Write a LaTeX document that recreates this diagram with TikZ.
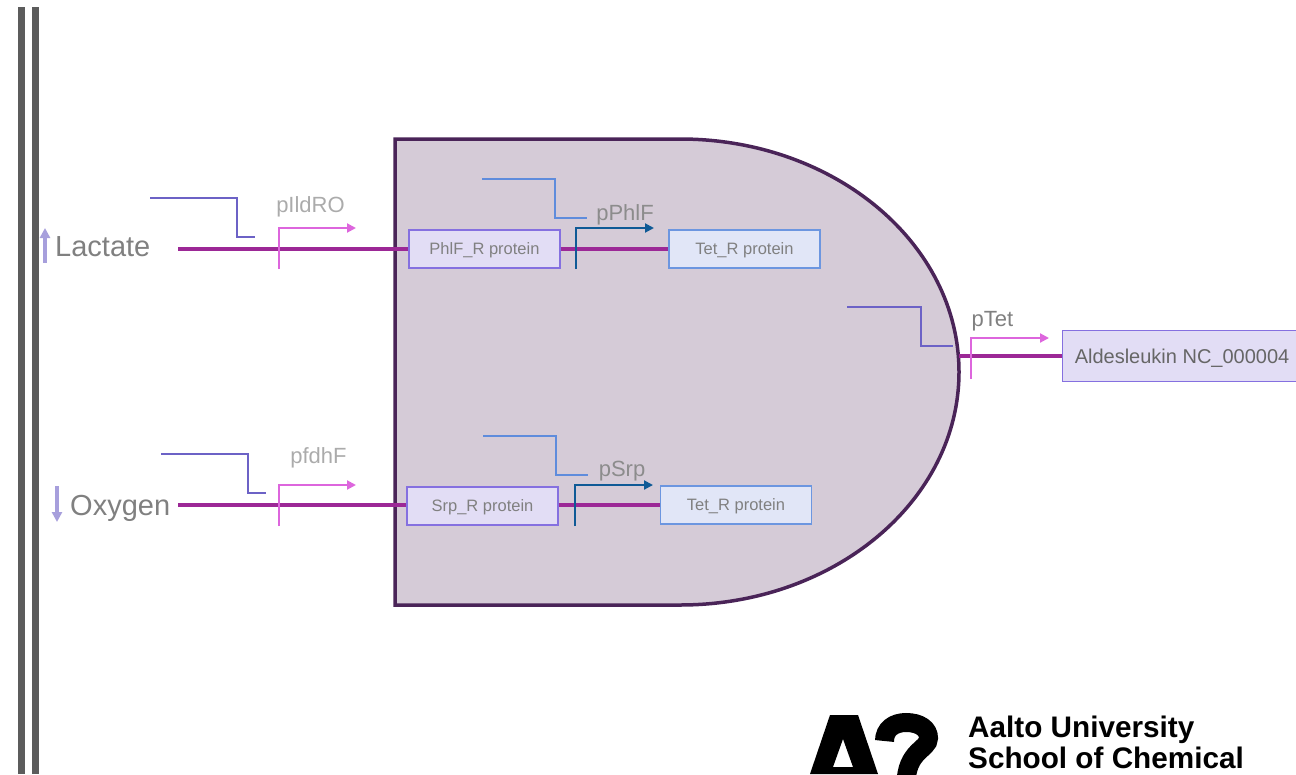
\documentclass[tikz,border=0pt]{standalone}
\usepackage{fontspec}
\setmainfont{Liberation Sans}
\usetikzlibrary{arrows.meta}
\definecolor{wallc}{HTML}{5C5C5C}
\definecolor{gatef}{HTML}{D5CBD7}
\definecolor{gated}{HTML}{4A2458}
\definecolor{wirec}{HTML}{9C2896}
\definecolor{promL}{HTML}{DD66DD}
\definecolor{promD}{HTML}{0F5A96}
\definecolor{repV}{HTML}{6C62C6}
\definecolor{repB}{HTML}{5F8CDC}
\definecolor{arrowc}{HTML}{A79FDC}
\definecolor{boxV}{HTML}{E2DDF5}
\definecolor{boxB}{HTML}{E1E6F7}
\definecolor{edgeV}{HTML}{8570E0}
\definecolor{edgeB}{HTML}{6C96E0}
\tikzset{
  wall/.style={wallc,line width=7pt},
  wire/.style={wirec,line width=3.2pt},
  prom/.style={line width=2pt,-{Triangle[length=9pt,width=9pt]}},
  rep/.style={line width=2.1pt},
  updown/.style={arrowc,line width=3.5pt,-{Triangle[length=10pt,width=10pt]}},
  protbox/.style={draw,line width=1.1pt,minimum width=151pt,minimum height=38pt,inner sep=0pt,text height=13pt,text depth=1.5pt,font=\fontsize{16.5}{18}\selectfont,text=black!50},
  sig/.style={inner sep=0pt,font=\fontsize{29}{32}\selectfont,text=black!50},
  plabel/.style={inner sep=0pt,font=\fontsize{22}{25}\selectfont},
  logotext/.style={inner sep=0pt,anchor=base west,font=\fontsize{29.7}{31}\bfseries\selectfont,text=black}
}
\begin{document}
\begin{tikzpicture}[x=1pt,y=-1pt]
\useasboundingbox (0,0) rectangle (1296,774);
% membrane
\coordinate (w1t) at (21.5,7); \coordinate (w1b) at (21.5,774);
\coordinate (w2t) at (35.5,7); \coordinate (w2b) at (35.5,774);
\draw[wall] (w1t) -- (w1b);
\draw[wall] (w2t) -- (w2b);
% gate
\draw[fill=gatef,draw=gated,line width=3.5pt] (395,139) -- (680,139) .. controls (834.1,139) and (959,243.3) .. (959,372) .. controls (959,500.7) and (834.1,605) .. (680,605) -- (395,605) -- cycle;
% signals
\node[sig,anchor=west] (lac) at (55,247) {Lactate};
\node[sig,anchor=west] (oxy) at (70,508) {Oxygen};
\coordinate (lacUa) at (45,263); \coordinate (lacUb) at (45,228);
\coordinate (oxyDa) at (57,486); \coordinate (oxyDb) at (57,522);
\draw[updown] (lacUa) -- (lacUb);
\draw[updown] (oxyDa) -- (oxyDb);
% boxes
\node[protbox,fill=boxV,draw=edgeV] (phlf) at (484.5,249) {PhlF\_R protein};
\node[protbox,fill=boxB,draw=edgeB] (tet1) at (744.5,249) {Tet\_R protein};
\node[protbox,fill=boxV,draw=edgeV] (srp) at (482.5,506) {Srp\_R protein};
\node[protbox,fill=boxB,draw=edgeB] (tet2) at (736,505) {Tet\_R protein};
\node[protbox,fill=boxV,draw=edgeV,minimum width=240pt,minimum height=51pt,anchor=west,text height=16pt,text depth=1pt,font=\fontsize{20}{22}\selectfont,text=black!60] (ald) at (1061.5,356) {Aldesleukin NC\_000004};
% wires
\coordinate (lacw) at (178,249); \coordinate (oxyw) at (178,505);
\coordinate (gateE) at (959,356);
\draw[wire] (lacw) -- (phlf.west);
\draw[wire] (oxyw) -- (srp.west |- oxyw);
\draw[wire] (phlf.east) -- (tet1.west);
\draw[wire] (srp.east |- tet2.west) -- (tet2.west);
\draw[wire] (gateE) -- (ald.west);
% promoters
\coordinate (p1a) at (278.5,269); \coordinate (p1b) at (278.5,228); \coordinate (p1c) at (356,228);
\coordinate (p2a) at (278.5,526); \coordinate (p2b) at (278.5,485); \coordinate (p2c) at (356,485);
\coordinate (p3a) at (576,269); \coordinate (p3b) at (576,228); \coordinate (p3c) at (654,228);
\coordinate (p4a) at (575,526); \coordinate (p4b) at (575,485); \coordinate (p4c) at (653,485);
\coordinate (p5a) at (971,379); \coordinate (p5b) at (971,338); \coordinate (p5c) at (1049,338);
\draw[prom,promL] (p1a) -- (p1b) -- (p1c);
\draw[prom,promL] (p2a) -- (p2b) -- (p2c);
\draw[prom,promD] (p3a) -- (p3b) -- (p3c);
\draw[prom,promD] (p4a) -- (p4b) -- (p4c);
\draw[prom,promL] (p5a) -- (p5b) -- (p5c);
% repressor steps
\coordinate (r1a) at (150,198); \coordinate (r1b) at (237,198); \coordinate (r1c) at (237,237); \coordinate (r1d) at (255,237);
\coordinate (r2a) at (161,454); \coordinate (r2b) at (248,454); \coordinate (r2c) at (248,493); \coordinate (r2d) at (266,493);
\coordinate (r3a) at (482,179); \coordinate (r3b) at (555,179); \coordinate (r3c) at (555,218); \coordinate (r3d) at (587,218);
\coordinate (r4a) at (483,436); \coordinate (r4b) at (556,436); \coordinate (r4c) at (556,475); \coordinate (r4d) at (588,475);
\coordinate (r5a) at (847,307); \coordinate (r5b) at (921,307); \coordinate (r5c) at (921,346); \coordinate (r5d) at (953,346);
\draw[rep,repV] (r1a) -- (r1b) -- (r1c) -- (r1d);
\draw[rep,repV] (r2a) -- (r2b) -- (r2c) -- (r2d);
\draw[rep,repB] (r3a) -- (r3b) -- (r3c) -- (r3d);
\draw[rep,repB] (r4a) -- (r4b) -- (r4c) -- (r4d);
\draw[rep,repV] (r5a) -- (r5b) -- (r5c) -- (r5d);
% promoter labels
\node[plabel,text=black!33] (lb1) at (310.5,207) {pIldRO};
\node[plabel,text=black!33] (lb2) at (318.5,458) {pfdhF};
\node[plabel,text=black!45] (lb3) at (625,215) {pPhlF};
\node[plabel,text=black!45] (lb4) at (622,471) {pSrp};
\node[plabel,text=black!50] (lb5) at (992.5,321) {pTet};
% logo
\fill[black,even odd rule] (830,715) -- (858,715) -- (878,774) -- (810,774) -- cycle
  (843,739) -- (853,767) -- (833,767) -- cycle;
\begin{scope}
\clip (860,705) rectangle (945,774);
\draw[black,line width=19pt] (884.5,741) .. controls (884.5,729) and (894,722.5) .. (906,722.5) .. controls (920,722.5) and (928.5,729) .. (928.5,738) .. controls (928.5,750) and (906,750) .. (906,785);
\end{scope}
\node[logotext] (lg1) at (968,737) {Aalto University};
\node[logotext] (lg2) at (968,768) {School of Chemical};
\end{tikzpicture}
\end{document}
